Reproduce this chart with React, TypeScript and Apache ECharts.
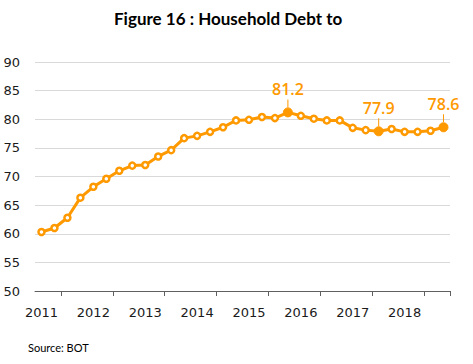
import React, { useEffect, useRef } from "react";
import * as echarts from "echarts";

const quarters: string[] = [
  "2011Q1", "2011Q2", "2011Q3", "2011Q4",
  "2012Q1", "2012Q2", "2012Q3", "2012Q4",
  "2013Q1", "2013Q2", "2013Q3", "2013Q4",
  "2014Q1", "2014Q2", "2014Q3", "2014Q4",
  "2015Q1", "2015Q2", "2015Q3", "2015Q4",
  "2016Q1", "2016Q2", "2016Q3", "2016Q4",
  "2017Q1", "2017Q2", "2017Q3", "2017Q4",
  "2018Q1", "2018Q2", "2018Q3", "2018Q4",
];

const debtToGdp: number[] = [
  60.3, 61.0, 62.8, 66.3, 68.2, 69.6, 71.0, 71.9,
  72.0, 73.5, 74.6, 76.7, 77.1, 77.8, 78.6, 79.8,
  79.9, 80.4, 80.2, 81.2, 80.6, 80.1, 79.8, 79.8,
  78.5, 78.1, 77.9, 78.3, 77.8, 77.8, 78.0, 78.6,
];

const labelledIndices: number[] = [19, 26, 31];

const titleText = "Figure 16 : Household Debt to";
const sourceText = "Source: BOT";

const ORANGE = "#FF9900";

export default function App() {
  const ref = useRef<HTMLDivElement>(null);

  useEffect(() => {
    document.body.style.margin = "0";
    if (!ref.current) return;
    const chart = echarts.init(ref.current, undefined, { renderer: "svg" });

    const seriesData = debtToGdp.map((v, i) => {
      if (labelledIndices.includes(i)) {
        return {
          value: v,
          symbolSize: 9,
          itemStyle: { color: ORANGE, borderColor: ORANGE, borderWidth: 1 },
          label: {
            show: true,
            position: "top",
            distance: 0,
            formatter: (p: any) => `{v|${Number(p.value).toFixed(1)}}\n{l| }`,
            rich: {
              v: {
                fontFamily: "Open Sans",
                fontWeight: 600,
                fontSize: 16,
                color: ORANGE,
                lineHeight: 20,
                align: "center",
              },
              l: {
                width: 1,
                height: 8,
                lineHeight: 8,
                fontSize: 1,
                backgroundColor: ORANGE,
                align: "center",
              },
            },
          },
        };
      }
      return v;
    });

    chart.setOption({
      animation: false,
      backgroundColor: "#ffffff",
      title: [
        {
          text: titleText,
          left: 114,
          top: 10,
          padding: 0,
          textStyle: {
            fontFamily: "Lato",
            fontWeight: "bold",
            fontSize: 17,
            color: "#000000",
          },
        },
        {
          text: sourceText,
          left: 28,
          top: 342,
          padding: 0,
          textStyle: {
            fontFamily: "Lato",
            fontWeight: "normal",
            fontSize: 11,
            color: "#000000",
          },
        },
      ],
      grid: { left: 35, right: 23, top: 62, bottom: 73 },
      xAxis: {
        type: "category",
        data: quarters,
        boundaryGap: true,
        axisLine: { show: true, lineStyle: { color: "#5f5f5f", width: 1 } },
        axisTick: {
          show: true,
          length: 5,
          interval: (index: number) => index % 4 === 2,
          lineStyle: { color: "#5f5f5f" },
        },
        axisLabel: {
          interval: 3,
          margin: 15,
          fontFamily: "DejaVu Sans",
          fontSize: 13,
          color: "#1a1a1a",
          formatter: (v: string) => v.slice(0, 4),
        },
        splitLine: { show: false },
      },
      yAxis: {
        type: "value",
        min: 50,
        max: 90,
        interval: 5,
        axisLine: { show: false },
        axisTick: { show: false },
        axisLabel: {
          margin: 15,
          fontFamily: "DejaVu Sans",
          fontSize: 13,
          color: "#1a1a1a",
        },
        splitLine: { show: true, lineStyle: { color: "#d9d9d9", width: 1 } },
      },
      series: [
        {
          type: "line",
          data: seriesData,
          symbol: "circle",
          symbolSize: 6,
          lineStyle: { color: ORANGE, width: 3 },
          itemStyle: { color: "#ffffff", borderColor: ORANGE, borderWidth: 2.5 },
          label: { show: false },
          emphasis: { disabled: true },
        },
      ],
    });

    return () => chart.dispose();
  }, []);

  return <div ref={ref} style={{ width: 473, height: 364 }} />;
}
